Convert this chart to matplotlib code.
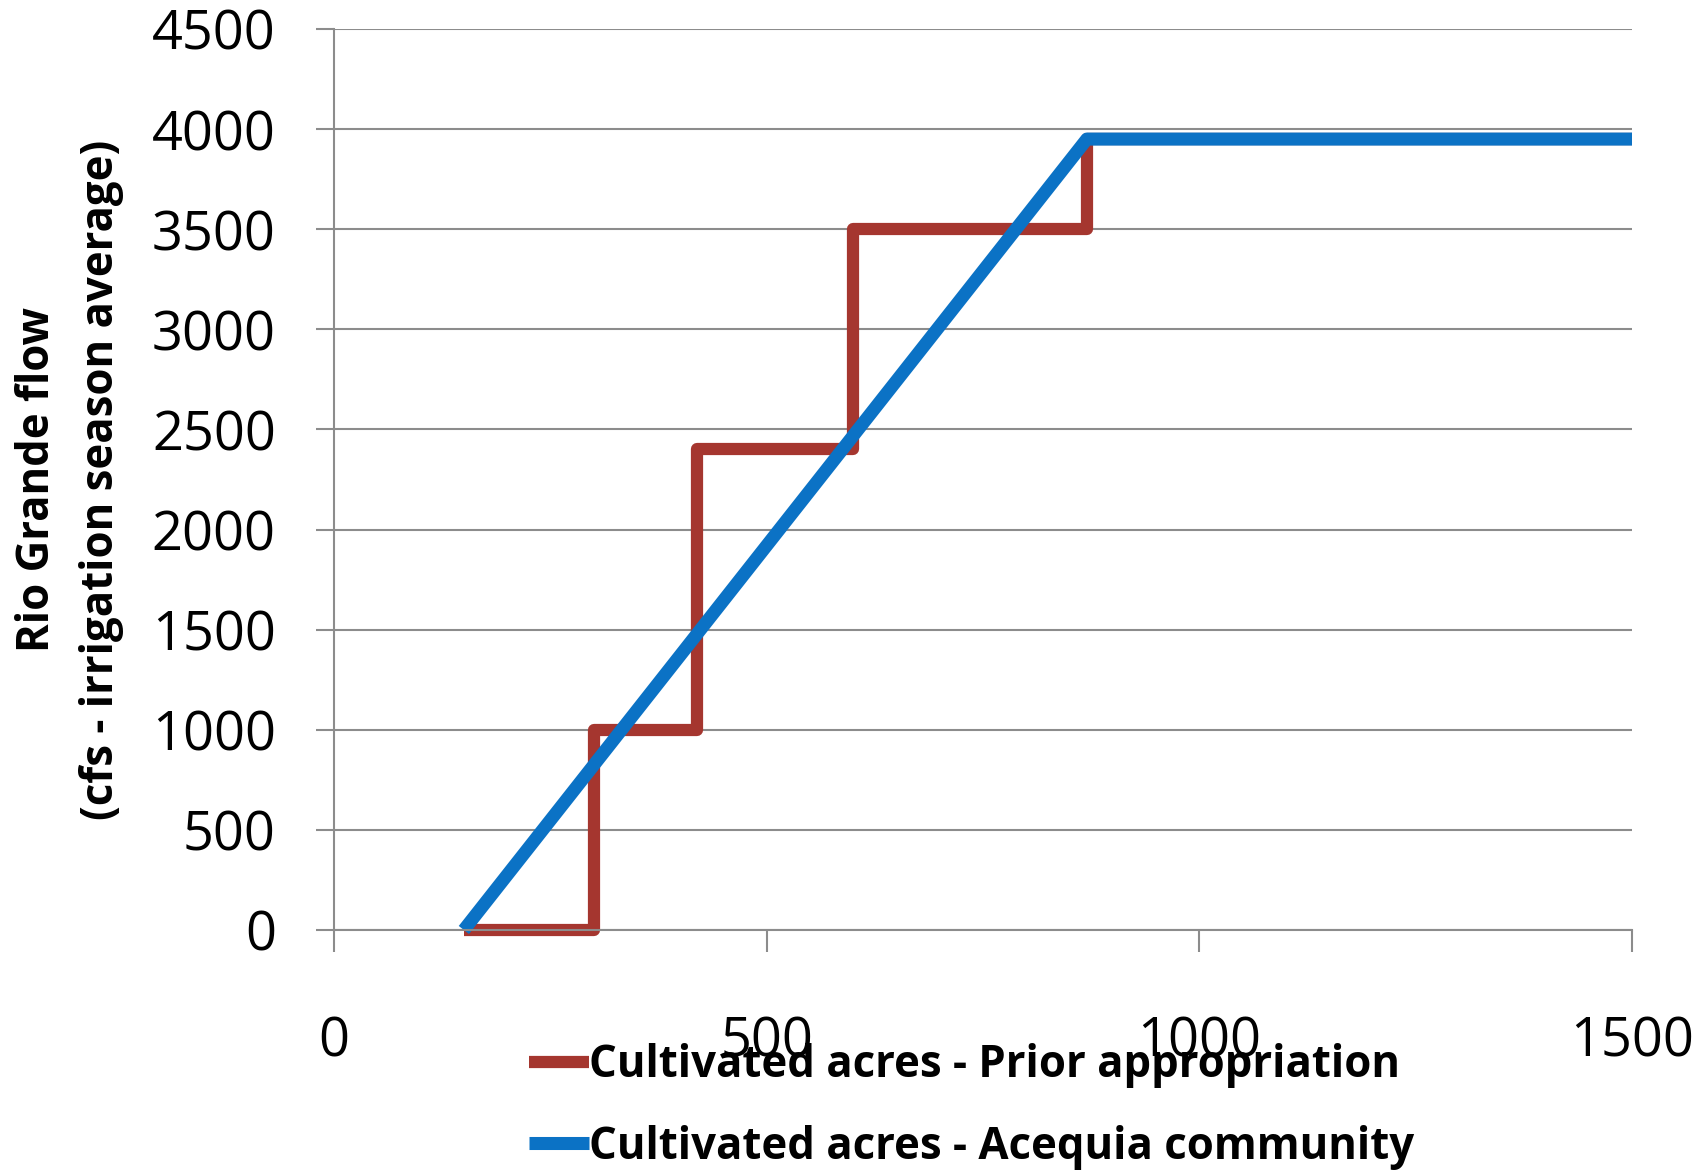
import matplotlib
matplotlib.use("Agg")
import matplotlib.pyplot as plt
from matplotlib import ticker

# values
prior_acres = [150, 300, 420, 600, 870, 1500]
prior_flow = [0, 1000, 2400, 3500, 3950, 3950]
acequia_acres = [150, 870, 1500]
acequia_flow = [0, 3950, 3950]

x_ticks = [0, 500, 1000, 1500]
y_ticks = [0, 500, 1000, 1500, 2000, 2500, 3000, 3500, 4000, 4500]

RED = "#A5362F"
BLUE = "#0B72C5"
GRID = "#8C8C8C"
BOLD_FONT = ["Open Sans", "DejaVu Sans"]

plt.rcParams["font.family"] = ["Open Sans", "DejaVu Sans"]

fig = plt.figure(figsize=(17.08, 11.72), dpi=100)
ax = fig.add_axes([0.1956, 0.2065, 0.7599, 0.7688])

ax.plot(prior_acres, prior_flow, drawstyle="steps-post", color=RED,
        linewidth=8.8, clip_on=False, solid_capstyle="butt",
        label="Cultivated acres - Prior appropriation")
ax.plot(acequia_acres, acequia_flow, color=BLUE, linewidth=9.4,
        clip_on=False, solid_capstyle="butt",
        label="Cultivated acres - Acequia community")

ax.set_xlim(0, 1500)
ax.set_ylim(0, 4500)
ax.xaxis.set_major_locator(ticker.FixedLocator(x_ticks))
ax.yaxis.set_major_locator(ticker.FixedLocator(y_ticks))

ax.yaxis.grid(True, color=GRID, linewidth=1.5)
ax.set_axisbelow(True)
for side in ["top", "right"]:
    ax.spines[side].set_visible(False)
for side in ["left", "bottom"]:
    ax.spines[side].set_color(GRID)
    ax.spines[side].set_linewidth(1.5)

ax.tick_params(axis="y", length=13, width=1.5, color=GRID, pad=29,
               labelsize=39)
ax.tick_params(axis="x", length=16, width=1.5, color=GRID, pad=45,
               labelsize=39)

ax.set_ylabel("Rio Grande flow\n(cfs - irrigation season average)",
              fontsize=31.5, fontweight="bold", family=BOLD_FONT,
              linespacing=1.55)
ax.yaxis.set_label_coords(-0.162, 0.5)

fig.legend(loc="center left", bbox_to_anchor=(0.310, 0.056), frameon=False,
           handlelength=1.37, handletextpad=0.0, borderpad=0,
           borderaxespad=0, labelspacing=0.83,
           prop={"family": BOLD_FONT, "weight": "bold", "size": 31.5})

plt.savefig("out.png", dpi=100)
